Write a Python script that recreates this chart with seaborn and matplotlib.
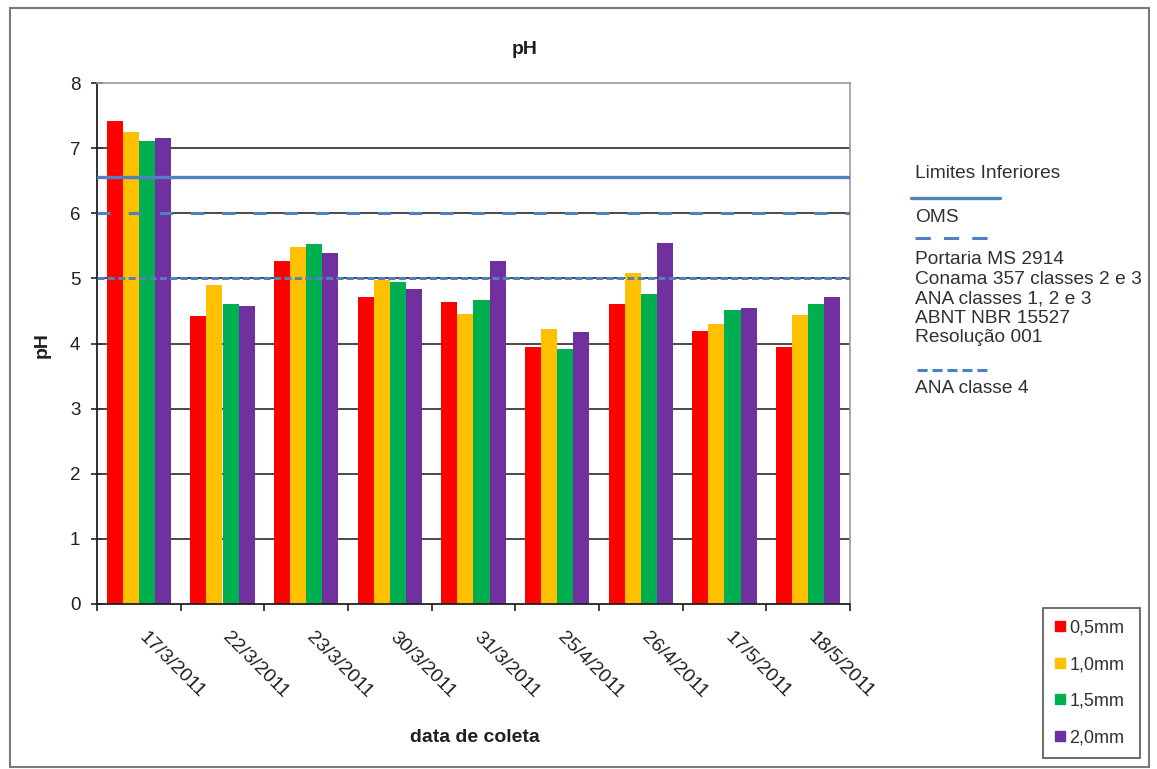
import matplotlib
matplotlib.use("Agg")
import matplotlib.pyplot as plt
import matplotlib.transforms as mtransforms
from matplotlib.lines import Line2D
from matplotlib.patches import Rectangle
import numpy as np
import pandas as pd
import seaborn as sns

# Collection dates and mesh sizes
datas = ["17/3/2011", "22/3/2011", "23/3/2011", "30/3/2011", "31/3/2011",
         "25/4/2011", "26/4/2011", "17/5/2011", "18/5/2011"]
malhas = ["0,5mm", "1,0mm", "1,5mm", "2,0mm"]

# pH per mesh size, one value per date
ph_05 = [7.41, 4.42, 5.27, 4.72, 4.63, 3.94, 4.61, 4.19, 3.94]
ph_10 = [7.24, 4.90, 5.48, 4.97, 4.46, 4.22, 5.09, 4.30, 4.44]
ph_15 = [7.11, 4.61, 5.53, 4.95, 4.67, 3.92, 4.76, 4.52, 4.61]
ph_20 = [7.16, 4.58, 5.39, 4.83, 5.27, 4.17, 5.55, 4.54, 4.72]

# Lower limits (reference lines)
lim_oms = 6.55
lim_portaria = 6.0
lim_ana4 = 5.0

cores = ["#FF0000", "#FFC000", "#00B050", "#7030A0"]
azul = "#4F81BD"

df = pd.DataFrame({
    "data": datas * 4,
    "malha": np.repeat(malhas, len(datas)),
    "pH": ph_05 + ph_10 + ph_15 + ph_20,
})

sns.set_style("white")
plt.rcParams["font.family"] = ["Liberation Sans", "DejaVu Sans"]

W, H = 1157, 769
fig = plt.figure(figsize=(W / 100, H / 100), dpi=100)


def fx(px):
    return px / W


def fy(py):
    return 1 - py / H


ax = fig.add_axes([fx(97), fy(604), fx(850) - fx(97), fy(83) - fy(604)])

sns.barplot(data=df, x="data", y="pH", hue="malha", order=datas,
            hue_order=malhas, palette=cores, width=0.77, saturation=1,
            linewidth=0, gap=0, errorbar=None, legend=False, ax=ax, zorder=2)

ax.set_xlim(-0.5, len(datas) - 0.5)
ax.set_ylim(0, 8)
ax.set_yticks(range(0, 9))
ax.grid(False)
for v in range(1, 8):
    ax.axhline(v, color="#3a3a3a", lw=1.3, zorder=1)

# Reference lines for the lower limits
ax.axhline(lim_oms, color=azul, lw=2.4, zorder=3)
ax.axhline(lim_portaria, color=azul, lw=2.2, ls=(0, (4.3, 5.9)), zorder=3)
ax.axhline(lim_ana4, color=azul, lw=2.2, ls=(0, (2.3, 1.1)), zorder=3)

for s in ["top", "right"]:
    ax.spines[s].set_color("#9a9a9a")
    ax.spines[s].set_linewidth(1.2)
for s in ["left", "bottom"]:
    ax.spines[s].set_color("#202020")
    ax.spines[s].set_linewidth(1.3)

ax.tick_params(axis="y", direction="inout", length=8, width=1.2,
               labelsize=13.5, colors="#202020", left=True, pad=8)
ax.set_xticks(np.arange(len(datas)))
ax.set_xticklabels(datas, rotation=-45, ha="left", va="top",
                   rotation_mode="anchor", fontsize=14, color="#202020")
ax.tick_params(axis="x", which="major", length=0, pad=13)
shift = mtransforms.ScaledTranslation(9 / 100, -7 / 100, fig.dpi_scale_trans)
for lbl in ax.get_xticklabels():
    lbl.set_transform(lbl.get_transform() + shift)
ax.set_xticks(np.arange(-0.5, len(datas)), minor=True)
ax.tick_params(axis="x", which="minor", direction="out", length=5,
               width=1.2, color="#202020", bottom=True)
ax.set_xlabel("")
ax.set_ylabel("")

fig.text(fx(525), fy(50), "pH", ha="center", va="center",
         fontsize=14, fontweight="bold", color="#202020")
fig.text(fx(42), fy(345), "pH", ha="center", va="center", rotation=90,
         fontsize=14, fontweight="bold", color="#202020")
fig.text(fx(475), fy(737), "data de coleta", ha="center", va="center",
         fontsize=14, fontweight="bold", color="#202020")

# Outer chart frame
fig.add_artist(Rectangle((fx(10), fy(767)), fx(1149) - fx(10), fy(8) - fy(767),
                         transform=fig.transFigure, fill=False,
                         edgecolor="#7a7a7a", lw=1.5))

# Legend for the reference lines
tx = fx(915)
txt_kw = dict(ha="left", va="center", fontsize=13.8, color="#303030")
fig.text(tx, fy(173), "Limites Inferiores", **txt_kw)
fig.add_artist(Line2D([fx(911), fx(1000)], [fy(198), fy(198)], color=azul,
                      lw=2.4, transform=fig.transFigure))
fig.text(tx, fy(217), "OMS", **txt_kw)
fig.add_artist(Line2D([fx(915), fx(1000)], [fy(238), fy(238)], color=azul,
                      lw=2.2, ls=(0, (5, 4.3)), transform=fig.transFigure))
bloco = ["Portaria MS 2914", "Conama 357 classes 2 e 3",
         "ANA classes 1, 2 e 3", "ABNT NBR 15527", "Resolução 001"]
for i, t in enumerate(bloco):
    fig.text(tx, fy(260 + i * 19.5), t, **txt_kw)
fig.add_artist(Line2D([fx(917), fx(987)], [fy(370), fy(370)], color=azul,
                      lw=2.2, ls=(0, (3.3, 1.6)), transform=fig.transFigure))
fig.text(tx, fy(389), "ANA classe 4", **txt_kw)

# Legend for the mesh sizes
handles = [Line2D([], [], marker="s", ls="none", markersize=6.5,
                  markerfacecolor=c, markeredgecolor=c, label=m)
           for c, m in zip(cores, malhas)]
leg = fig.legend(handles=handles, loc="upper left",
                 bbox_to_anchor=(fx(1043), fy(760), fx(1140) - fx(1043),
                                 fy(608) - fy(760)),
                 bbox_transform=fig.transFigure, mode="expand",
                 fontsize=13, frameon=True, fancybox=False,
                 edgecolor="#555555", framealpha=1, labelspacing=1.08,
                 handlelength=0.6, handletextpad=0.2, borderpad=0.65,
                 borderaxespad=0)
leg.get_frame().set_linewidth(1.2)
for t in leg.get_texts():
    t.set_color("#303030")

fig.savefig("out.png", dpi=100)
